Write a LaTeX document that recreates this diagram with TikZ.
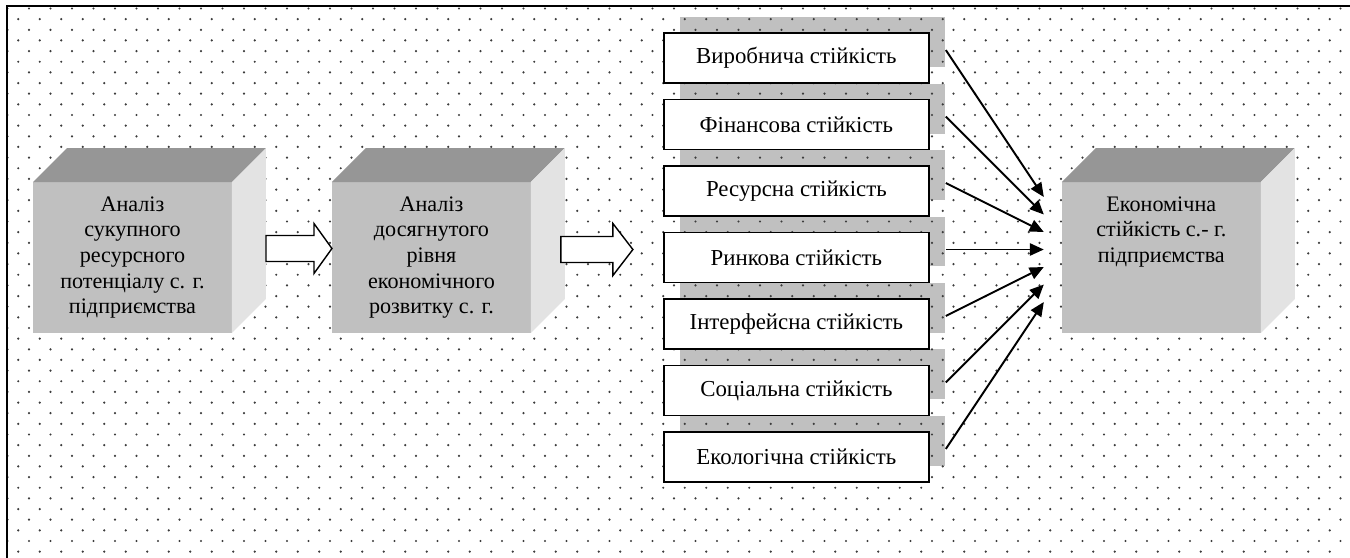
\documentclass[tikz,border=0pt]{standalone}
\usepackage{fontspec}
\setmainfont{Liberation Serif}
\usetikzlibrary{arrows.meta, positioning, calc}

\definecolor{facefront}{HTML}{C0C0C0}
\definecolor{facetop}{HTML}{969696}
\definecolor{faceside}{HTML}{E3E3E3}
\definecolor{shadegray}{HTML}{C0C0C0}
\definecolor{dotgray}{HTML}{3C3C3C}

\pgfdeclarelayer{shade}
\pgfdeclarelayer{dots}
\pgfsetlayers{shade,dots,main}

\begin{document}
\begin{tikzpicture}[
    x=0.02cm, y=-0.02cm,
    cube/.style={
        rectangle,
        fill=facefront,
        minimum width=3.98cm,
        minimum height=3.02cm,
        outer sep=0pt,
        align=center,
        font=\fontsize{12.6}{14.6}\selectfont
    },
    stab/.style={
        rectangle,
        draw,
        thick,
        fill=white,
        minimum width=5.3cm,
        minimum height=1cm,
        outer sep=0pt,
        font=\fontsize{13}{15}\selectfont
    },
    hollow/.style={
        draw,
        fill=white,
        line width=0.8pt,
        line join=miter
    },
    conn/.style={
        -{Triangle[length=8pt, width=7pt]},
        line width=1.1pt
    }
]
\useasboundingbox (0,0) rectangle (1350,558);

% frame
\draw[line width=1.2pt] (7,558) -- (7,6) -- (1350,6);

% analysis blocks
\node[cube] (an1) at (132.5,257.5) {Аналіз\\сукупного\\ресурсного\\потенціалу с. г.\\підприємства};
\node[cube, right=2cm of an1] (an2) {Аналіз\\досягнутого\\рівня\\економічного\\розвитку с. г.};

% kinds of stability
\node[stab, right=2.66cm of an2] (s4) {Ринкова стійкість};
\node[stab, above=0.33cm of s4] (s3) {Ресурсна стійкість};
\node[stab, above=0.33cm of s3] (s2) {Фінансова стійкість};
\node[stab, above=0.33cm of s2] (s1) {Виробнича стійкість};
\node[stab, below=0.33cm of s4] (s5) {Інтерфейсна стійкість};
\node[stab, below=0.33cm of s5] (s6) {Соціальна стійкість};
\node[stab, below=0.33cm of s6] (s7) {Екологічна стійкість};

% result
\node[cube, text depth=32pt, right=2.66cm of s4] (eco) {Економічна\\стійкість с.- г.\\підприємства};

% 3d faces
\foreach \c in {an1,an2,eco} {
    \fill[facetop] (\c.north west) -- ++(34,-34) -- ($(\c.north east)+(34,-34)$) -- (\c.north east) -- cycle;
    \fill[faceside] (\c.north east) -- ++(34,-34) -- ($(\c.south east)+(34,-34)$) -- (\c.south east) -- cycle;
}

% block arrows
\coordinate (a1s) at ($(an1.east)+(34,-9)$);
\coordinate (a1e) at (an2.west |- a1s);
\draw[hollow] ($(a1s)+(0,-13)$) -- ($(a1e)+(-18,-13)$) -- ($(a1e)+(-18,-25)$) -- (a1e)
    -- ($(a1e)+(-18,25)$) -- ($(a1e)+(-18,13)$) -- ($(a1s)+(0,13)$) -- cycle;
\coordinate (a2s) at ($(an2.east)+(30,-8)$);
\coordinate (a2e) at ($(s4.west |- a2s)+(-31,0)$);
\draw[hollow] ($(a2s)+(0,-13)$) -- ($(a2e)+(-20,-13)$) -- ($(a2e)+(-20,-26)$) -- (a2e)
    -- ($(a2e)+(-20,26)$) -- ($(a2e)+(-20,13)$) -- ($(a2s)+(0,13)$) -- cycle;

% connectors
\foreach \i in {1,...,7}
    \draw[conn] ($(s\i.east)+(17,-8)$) -- ($(eco.west)+(-18,{-8+17.5*(\i-4)})$);

% shadows
\begin{pgfonlayer}{shade}
\foreach \i in {1,...,7}
    \fill[shadegray] ($(s\i.south west)+(16,-16)$) rectangle ($(s\i.north east)+(16,-16)$);
\end{pgfonlayer}

% dotted background
\begin{pgfonlayer}{dots}
\foreach \j in {0,...,51}
    \foreach \i in {0,...,62}
        \fill[dotgray] ({7.5+21.5*\i+10.75*mod(\j,2)},{8.5+10.65*\j}) circle[radius=0.7pt];
\end{pgfonlayer}

\end{tikzpicture}
\end{document}
